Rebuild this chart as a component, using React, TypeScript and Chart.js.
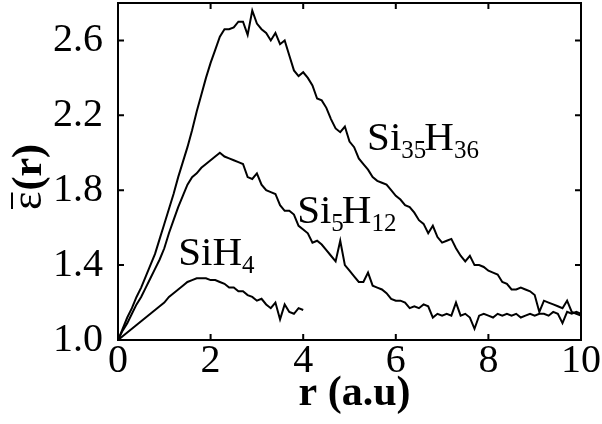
import React, { useEffect, useRef } from "react";
import { Chart, registerables } from "chart.js";

Chart.register(...registerables);

// r grid (a.u.)
const rGrid = [
  0.0, 0.1, 0.2, 0.3, 0.4, 0.5, 0.6, 0.7, 0.8, 0.9,
  1.0, 1.1, 1.2, 1.3, 1.4, 1.5, 1.6, 1.7, 1.8, 1.9,
  2.0, 2.1, 2.2, 2.3, 2.4, 2.5, 2.6, 2.7, 2.8, 2.9,
  3.0, 3.1, 3.2, 3.3, 3.4, 3.5, 3.6, 3.7, 3.8, 3.9,
  4.0, 4.1, 4.2, 4.3, 4.4, 4.5, 4.6, 4.7, 4.8, 4.9,
  5.0, 5.1, 5.2, 5.3, 5.4, 5.5, 5.6, 5.7, 5.8, 5.9,
  6.0, 6.1, 6.2, 6.3, 6.4, 6.5, 6.6, 6.7, 6.8, 6.9,
  7.0, 7.1, 7.2, 7.3, 7.4, 7.5, 7.6, 7.7, 7.8, 7.9,
  8.0, 8.1, 8.2, 8.3, 8.4, 8.5, 8.6, 8.7, 8.8, 8.9,
  9.0, 9.1, 9.2, 9.3, 9.4, 9.5, 9.6, 9.7, 9.8, 9.9,
  10.0,
];

const si35h36 = [
  1.00, 1.06, 1.12, 1.17, 1.23, 1.28, 1.34, 1.40, 1.46, 1.54,
  1.62, 1.70, 1.78, 1.87, 1.95, 2.03, 2.12, 2.22, 2.31, 2.40,
  2.48, 2.55, 2.62, 2.66, 2.66, 2.67, 2.70, 2.70, 2.63, 2.76,
  2.69, 2.66, 2.64, 2.60, 2.64, 2.58, 2.60, 2.52, 2.44, 2.41,
  2.43, 2.40, 2.36, 2.29, 2.28, 2.24, 2.18, 2.13, 2.11, 2.14,
  2.06, 2.03, 1.97, 1.94, 1.91, 1.87, 1.85, 1.84, 1.83, 1.80,
  1.77, 1.75, 1.72, 1.71, 1.68, 1.64, 1.62, 1.57, 1.61, 1.55,
  1.52, 1.53, 1.54, 1.49, 1.45, 1.42, 1.45, 1.40, 1.40, 1.39,
  1.37, 1.36, 1.35, 1.31, 1.30, 1.27, 1.27, 1.28, 1.27, 1.26,
  1.24, 1.15, 1.21, 1.20, 1.19, 1.18, 1.17, 1.21, 1.15, 1.14,
  1.13,
];

const si5h12 = [
  1.00, 1.05, 1.09, 1.14, 1.19, 1.23, 1.28, 1.33, 1.38, 1.43,
  1.49, 1.57, 1.64, 1.71, 1.77, 1.83, 1.87, 1.89, 1.92, 1.94,
  1.96, 1.98, 2.00, 1.98, 1.97, 1.96, 1.95, 1.94, 1.87, 1.86,
  1.89, 1.83, 1.80, 1.79, 1.78, 1.72, 1.69, 1.69, 1.67, 1.61,
  1.59, 1.57, 1.52, 1.53, 1.51, 1.48, 1.45, 1.42, 1.53, 1.40,
  1.37, 1.34, 1.31, 1.31, 1.36, 1.29, 1.28, 1.27, 1.25, 1.22,
  1.21, 1.21, 1.20, 1.17, 1.18, 1.17, 1.19, 1.18, 1.12, 1.14,
  1.13, 1.14, 1.13, 1.20, 1.13, 1.14, 1.12, 1.06, 1.13, 1.14,
  1.13, 1.12, 1.14, 1.13, 1.14, 1.13, 1.14, 1.12, 1.13, 1.14,
  1.13, 1.14, 1.14, 1.13, 1.15, 1.14, 1.09, 1.15, 1.14, 1.15,
  1.14,
];

const siH4 = [
  1.00, 1.02, 1.04, 1.06, 1.08, 1.10, 1.12, 1.14, 1.16, 1.18,
  1.20, 1.23, 1.25, 1.27, 1.29, 1.31, 1.32, 1.33, 1.33, 1.33,
  1.32, 1.32, 1.31, 1.30, 1.28, 1.28, 1.26, 1.26, 1.24, 1.23,
  1.21, 1.22, 1.19, 1.17, 1.20, 1.11, 1.19, 1.15, 1.14, 1.17,
  1.16,
];

const xTicks = [0, 2, 4, 6, 8, 10];
const yTicks = [1.0, 1.4, 1.8, 2.2, 2.6];

const SERIF = '"Liberation Serif", "Times New Roman", serif';

type Part = [string, boolean];

function drawFormula(ctx: CanvasRenderingContext2D, x: number, y: number, parts: Part[]) {
  let cx = x;
  ctx.textAlign = "left";
  ctx.textBaseline = "alphabetic";
  for (const [txt, sub] of parts) {
    ctx.font = sub ? `25px ${SERIF}` : `41px ${SERIF}`;
    ctx.fillText(txt, cx, sub ? y + 8 : y);
    cx += ctx.measureText(txt).width - (sub ? 2 : 0);
  }
}

const decorPlugin = {
  id: "decor",
  afterDraw(chart: any) {
    const { ctx, chartArea, scales } = chart;
    const { left, right, top, bottom } = chartArea;
    const xs = scales.x;
    const ys = scales.y;
    ctx.save();
    ctx.strokeStyle = "#000";
    ctx.fillStyle = "#000";
    ctx.lineWidth = 2;
    ctx.strokeRect(left, top, right - left, bottom - top);
    const tl = 6;
    ctx.beginPath();
    for (const v of xTicks) {
      const px = xs.getPixelForValue(v);
      ctx.moveTo(px, bottom);
      ctx.lineTo(px, bottom - tl);
      ctx.moveTo(px, top);
      ctx.lineTo(px, top + tl);
    }
    for (const v of yTicks) {
      const py = ys.getPixelForValue(v);
      ctx.moveTo(left, py);
      ctx.lineTo(left + tl, py);
      ctx.moveTo(right, py);
      ctx.lineTo(right - tl, py);
    }
    ctx.stroke();

    // curve labels
    drawFormula(ctx, xs.getPixelForValue(1.3), ys.getPixelForValue(1.4), [["SiH", false], ["4", true]]);
    drawFormula(ctx, xs.getPixelForValue(3.87), ys.getPixelForValue(1.624), [["Si", false], ["5", true], ["H", false], ["12", true]]);
    drawFormula(ctx, xs.getPixelForValue(5.38), ys.getPixelForValue(2.013), [["Si", false], ["35", true], ["H", false], ["36", true]]);

    // x axis title
    ctx.font = `bold 42px ${SERIF}`;
    ctx.textAlign = "center";
    ctx.textBaseline = "alphabetic";
    ctx.fillText("r (a.u)", (left + right) / 2 + 5, 405);

    // y axis title (rotated)
    ctx.translate(41, 210);
    ctx.rotate(-Math.PI / 2);
    ctx.textAlign = "left";
    ctx.font = `44px ${SERIF}`;
    const eps = "ε";
    ctx.fillText(eps, 0, 0);
    const ew = ctx.measureText(eps).width;
    ctx.lineWidth = 2;
    ctx.beginPath();
    ctx.moveTo(1, -29);
    ctx.lineTo(ew - 1, -29);
    ctx.stroke();
    ctx.font = `bold 42px ${SERIF}`;
    ctx.fillText("(r)", ew + 1, 0);
    ctx.restore();
  },
};

export default function App() {
  const ref = useRef<HTMLCanvasElement | null>(null);
  useEffect(() => {
    if (!ref.current) return;
    const line = (vals: number[]) => vals.map((v, i) => ({ x: rGrid[i], y: v }));
    const ds = (label: string, vals: number[]) => ({
      label,
      data: line(vals),
      borderColor: "#000",
      borderWidth: 2,
      pointRadius: 0,
      fill: false,
      tension: 0,
    });
    const tickFont = { family: SERIF, size: 40, lineHeight: 1 };
    const chart = new Chart(ref.current, {
      type: "line",
      data: {
        datasets: [ds("Si35H36", si35h36), ds("Si5H12", si5h12), ds("SiH4", siH4)],
      },
      options: {
        animation: false,
        responsive: false,
        maintainAspectRatio: false,
        layout: { padding: { left: 0, right: 21, top: 3, bottom: 0 } },
        plugins: { legend: { display: false }, tooltip: { enabled: false } },
        scales: {
          x: {
            type: "linear",
            min: 0,
            max: 10,
            afterBuildTicks: (s: any) => {
              s.ticks = xTicks.map((v) => ({ value: v }));
            },
            afterFit: (s: any) => {
              s.height = 84;
              s.paddingLeft = 0;
              s.paddingRight = 0;
            },
            grid: { display: false, drawTicks: false },
            border: { display: false },
            ticks: {
              color: "#000",
              font: tickFont,
              padding: 1,
              maxRotation: 0,
              autoSkip: false,
              callback: (v: any) => String(v),
            },
          },
          y: {
            type: "linear",
            min: 1.0,
            max: 2.8,
            afterBuildTicks: (s: any) => {
              s.ticks = yTicks.map((v) => ({ value: v }));
            },
            afterFit: (s: any) => {
              s.width = 118;
              s.paddingTop = 0;
              s.paddingBottom = 0;
            },
            grid: { display: false, drawTicks: false },
            border: { display: false },
            ticks: {
              color: "#000",
              font: tickFont,
              padding: 15,
              autoSkip: false,
              callback: (v: any) => Number(v).toFixed(1),
            },
          },
        },
      },
      plugins: [decorPlugin],
    } as any);
    return () => chart.destroy();
  }, []);
  return (
    <div style={{ position: "fixed", left: 0, top: 0, width: 602, height: 424, background: "#fff" }}>
      <canvas ref={ref} width={602} height={424} />
    </div>
  );
}
